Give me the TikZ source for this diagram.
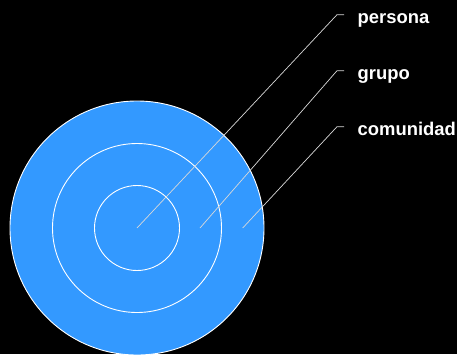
\documentclass[tikz,border=0pt]{standalone}
\usepackage{fontspec}
\setmainfont{Liberation Sans}
\definecolor{ringblue}{RGB}{51,153,255}
\begin{document}
\begin{tikzpicture}[x=1pt,y=-1pt,
  ring/.style={circle,draw=white,line width=0.9pt,inner sep=0pt,outer sep=0pt},
  lead/.style={draw=white!85!black,line width=0.7pt},
  lbl/.style={anchor=base west,inner sep=0pt,text=white,font=\bfseries\fontsize{18.4}{20}\selectfont}]
\fill[black] (0,0) rectangle (457,354);
\useasboundingbox (0,0) rectangle (457,354);
\node[ring,fill=ringblue,minimum size=254pt] (outer) at (137,228) {};
\node[ring,minimum size=169pt] (middle) at (137,228) {};
\node[ring,minimum size=85pt] (inner) at (137,228) {};
\coordinate (p0) at (137,228);
\coordinate (g0) at (200,228);
\coordinate (c0) at (242.7,228);
\coordinate (p1) at (337,14.7);
\coordinate (p2) at (344,14.7);
\coordinate (g1) at (337,70.7);
\coordinate (g2) at (344,70.7);
\coordinate (c1) at (337,126.7);
\coordinate (c2) at (344,126.7);
\node[lbl] (persona) at (357.5,23.3) {persona};
\node[lbl] (grupo) at (357.5,79.3) {grupo};
\node[lbl] (comunidad) at (357.5,135) {comunidad};
\draw[lead] (p0) -- (p1) -- (p2);
\draw[lead] (g0) -- (g1) -- (g2);
\draw[lead] (c0) -- (c1) -- (c2);
\end{tikzpicture}
\end{document}
